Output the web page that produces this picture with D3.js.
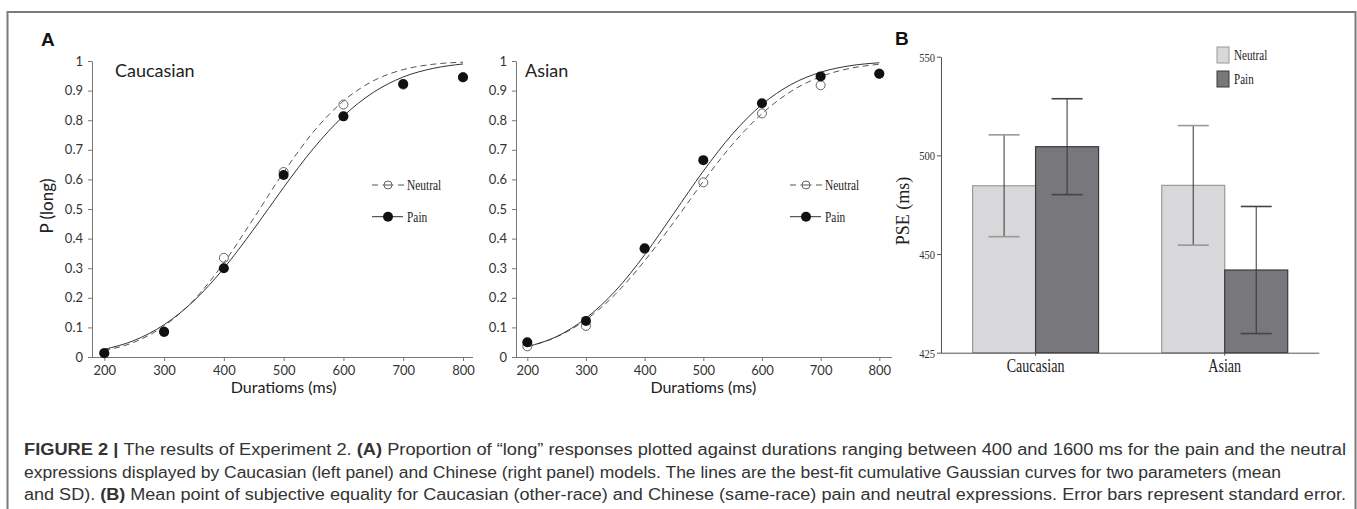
<!DOCTYPE html>
<html>
<head>
<meta charset="utf-8">
<script src="https://cdn.jsdelivr.net/npm/d3@7"></script>
<style>
  body { margin: 0; background: #fff; }
  svg { display: block; }
</style>
</head>
<body>
<script>
// ---- data ----
var durations = [200, 300, 400, 500, 600, 700, 800];
var caucNeutral = [0.013, 0.085, 0.335, 0.625, 0.853, 0.92, 0.945];
var caucPain = [0.013, 0.085, 0.30, 0.615, 0.813, 0.922, 0.945];
var asianNeutral = [0.036, 0.105, 0.365, 0.59, 0.823, 0.918, 0.957];
var asianPain = [0.05, 0.122, 0.367, 0.665, 0.857, 0.948, 0.957];

// fitted curves, read every 50 ms
var fitX = [200, 250, 300, 350, 400, 450, 500, 550, 600, 650, 700, 750, 800];
var caucNeutralFit = [0.022, 0.05, 0.105, 0.193, 0.318, 0.469, 0.624, 0.761, 0.865, 0.933, 0.971, 0.989, 0.996];
var caucPainFit = [0.026, 0.056, 0.109, 0.19, 0.30, 0.432, 0.573, 0.705, 0.814, 0.894, 0.946, 0.975, 0.99];
var asianNeutralFit = [0.035, 0.068, 0.126, 0.212, 0.325, 0.456, 0.593, 0.719, 0.822, 0.898, 0.947, 0.975, 0.989];
var asianPainFit = [0.035, 0.069, 0.131, 0.223, 0.345, 0.486, 0.628, 0.754, 0.853, 0.921, 0.962, 0.984, 0.994];
var probTicks = [0, 0.1, 0.2, 0.3, 0.4, 0.5, 0.6, 0.7, 0.8, 0.9, 1];

// panel B
var groups = ['Caucasian', 'Asian'];
var conditions = ['Neutral', 'Pain'];
var pseNeutral = [484.6, 484.8];
var psePain = [504.4, 441.9];
var seNeutral = [25.8, 30.3];
var sePain = [24.3, 32.2];
var pseTicks = [400, 450, 500, 550];
var pseTickLabels = ['425', '450', '500', '550'];

var caption = [
  [['FIGURE 2 | ', true], ['The results of Experiment 2. ', false], ['(A)', true], [' Proportion of \u201Clong\u201D responses plotted against durations ranging between 400 and 1600 ms for the pain and the neutral', false]],
  [['expressions displayed by Caucasian (left panel) and Chinese (right panel) models. The lines are the best-fit cumulative Gaussian curves for two parameters (mean', false]],
  [['and SD). ', false], ['(B)', true], [' Mean point of subjective equality for Caucasian (other-race) and Chinese (same-race) pain and neutral expressions. Error bars represent standard error.', false]]
];

var SANS = 'Lato, "Open Sans", sans-serif';
var SERIF = '"Liberation Serif", "Times New Roman", serif';

function condense(sel, f) {
  sel.each(function () {
    var w = this.getComputedTextLength();
    d3.select(this).attr('textLength', w * f).attr('lengthAdjust', 'spacingAndGlyphs');
  });
}

var svg = d3.select('body').append('svg')
  .attr('width', 1357)
  .attr('height', 509);

svg.append('rect').attr('width', 1357).attr('height', 509).attr('fill', '#fff');

// frame round the figure (open at the bottom, cut by the page)
svg.append('path')
  .attr('d', 'M7.5,530V12H1355.5V530')
  .attr('fill', 'none')
  .attr('stroke', '#7b7b7b')
  .attr('stroke-width', 2);

// ---- panel A: two psychometric plots ----
var y = d3.scaleLinear().domain([0, 1]).range([357, 61]);

function psychPanel(cfg) {
  var x = d3.scaleLinear().domain([200, 800]).range(cfg.xr);
  var g = svg.append('g');

  var xa = g.append('g')
    .attr('transform', 'translate(0,357)')
    .call(d3.axisBottom(x).tickValues(durations).tickSize(4).tickPadding(5).tickSizeOuter(0));
  xa.select('.domain').attr('d', 'M' + cfg.axisEnds[0] + ',0.5H' + cfg.axisEnds[1]);

  var ya = g.append('g')
    .attr('transform', 'translate(' + cfg.axisEnds[0] + ',0)')
    .call(d3.axisLeft(y).tickValues(probTicks).tickSize(4).tickPadding(5).tickSizeOuter(0)
      .tickFormat(function (d) { return String(+d.toFixed(1)); }));

  [xa, ya].forEach(function (a) {
    a.selectAll('.domain, .tick line').attr('stroke', '#777');
    a.selectAll('text').attr('font-family', SANS).attr('font-size', 13).attr('fill', '#333');
  });

  var line = d3.line()
    .x(function (d, i) { return x(fitX[i]); })
    .y(function (d) { return y(d); })
    .curve(d3.curveMonotoneX);

  g.append('path').attr('d', line(cfg.neutralFit))
    .attr('fill', 'none').attr('stroke', '#555').attr('stroke-width', 1)
    .attr('stroke-dasharray', '6,4');
  g.append('path').attr('d', line(cfg.painFit))
    .attr('fill', 'none').attr('stroke', '#333').attr('stroke-width', 1);

  g.selectAll('circle.neutral')
    .data(cfg.neutral)
    .enter().append('circle')
    .attr('class', 'neutral')
    .attr('cx', function (d, i) { return x(durations[i]); })
    .attr('cy', function (d) { return y(d); })
    .attr('r', 4.5)
    .attr('fill', 'none')
    .attr('stroke', '#666')
    .attr('stroke-width', 1);

  g.selectAll('circle.pain')
    .data(cfg.pain)
    .enter().append('circle')
    .attr('class', 'pain')
    .attr('cx', function (d, i) { return x(durations[i]); })
    .attr('cy', function (d) { return y(d); })
    .attr('r', 5)
    .attr('fill', '#111');

  g.append('text')
    .attr('x', cfg.titleX).attr('y', 76.5)
    .attr('font-family', SANS).attr('font-size', 18).attr('fill', '#222')
    .text(cfg.title);

  g.append('text')
    .attr('x', (cfg.xr[0] + cfg.xr[1]) / 2).attr('y', 393)
    .attr('text-anchor', 'middle')
    .attr('font-family', SANS).attr('font-size', 16).attr('fill', '#222')
    .text('Duratioms (ms)');

  // legend
  var lx = cfg.legX;
  g.append('line')
    .attr('x1', lx).attr('x2', lx + 32).attr('y1', 185).attr('y2', 185)
    .attr('stroke', '#555').attr('stroke-dasharray', '6,4.5,11,4.5,6');
  g.append('circle').attr('cx', lx + 16).attr('cy', 185).attr('r', 4)
    .attr('fill', 'none').attr('stroke', '#666');
  g.append('line')
    .attr('x1', lx).attr('x2', lx + 31).attr('y1', 216.7).attr('y2', 216.7)
    .attr('stroke', '#333');
  g.append('circle').attr('cx', lx + 16).attr('cy', 216.7).attr('r', 5).attr('fill', '#111');

  var lt = g.selectAll('text.leg')
    .data(conditions)
    .enter().append('text')
    .attr('class', 'leg')
    .attr('x', lx + 35)
    .attr('y', function (d, i) { return i === 0 ? 190 : 221.5; })
    .attr('font-family', SERIF).attr('font-size', 15).attr('fill', '#222')
    .text(function (d) { return d; });
  condense(lt, 0.76);
}

psychPanel({
  title: 'Caucasian', titleX: 115,
  xr: [104.3, 463], axisEnds: [92, 473], legX: 372,
  neutral: caucNeutral, pain: caucPain,
  neutralFit: caucNeutralFit, painFit: caucPainFit
});
psychPanel({
  title: 'Asian', titleX: 525,
  xr: [527.3, 879.3], axisEnds: [516, 892], legX: 790,
  neutral: asianNeutral, pain: asianPain,
  neutralFit: asianNeutralFit, painFit: asianPainFit
});

svg.append('text')
  .attr('transform', 'translate(53,206) rotate(-90)')
  .attr('text-anchor', 'middle')
  .attr('font-family', SANS).attr('font-size', 17).attr('fill', '#222')
  .text('P (long)');

svg.append('text').attr('x', 41).attr('y', 46)
  .attr('font-family', '"Liberation Sans", Arial, sans-serif')
  .attr('font-weight', 'bold').attr('font-size', 19).attr('fill', '#111')
  .text('A');

// ---- panel B: PSE bars ----
var bx0 = d3.scaleBand().domain(groups).range([941, 1319.3]).paddingInner(0.334).paddingOuter(0.167);
var bx1 = d3.scaleBand().domain(conditions).range([0, bx0.bandwidth()]);
var by = d3.scaleLinear().domain([400, 550]).range([352.7, 56.7]);

var fills = { Neutral: '#d8d8da', Pain: '#78787c' };
var strokes = { Neutral: '#9a9a9a', Pain: '#3a3a3a' };
var capStrokes = { Neutral: '#999', Pain: '#444' };

var bars = [];
groups.forEach(function (gname, i) {
  bars.push({ group: gname, cond: 'Neutral', value: pseNeutral[i], se: seNeutral[i] });
  bars.push({ group: gname, cond: 'Pain', value: psePain[i], se: sePain[i] });
});

var gb = svg.append('g');

gb.selectAll('rect.bar')
  .data(bars)
  .enter().append('rect')
  .attr('class', 'bar')
  .attr('x', function (d) { return bx0(d.group) + bx1(d.cond); })
  .attr('y', function (d) { return by(d.value); })
  .attr('width', bx1.bandwidth())
  .attr('height', function (d) { return by(400) - by(d.value); })
  .attr('fill', function (d) { return fills[d.cond]; })
  .attr('stroke', function (d) { return strokes[d.cond]; })
  .attr('stroke-width', 1.2);

var eb = gb.selectAll('g.err')
  .data(bars)
  .enter().append('g')
  .attr('class', 'err')
  .attr('transform', function (d) {
    return 'translate(' + (bx0(d.group) + bx1(d.cond) + bx1.bandwidth() / 2) + ',0)';
  });
eb.append('line')
  .attr('y1', function (d) { return by(d.value + d.se); })
  .attr('y2', function (d) { return by(d.value - d.se); })
  .attr('stroke', '#333').attr('stroke-width', 1);
eb.selectAll('line.cap')
  .data(function (d) { return [{ v: d.value + d.se, c: d.cond }, { v: d.value - d.se, c: d.cond }]; })
  .enter().append('line')
  .attr('class', 'cap')
  .attr('x1', -15.5).attr('x2', 15.5)
  .attr('y1', function (d) { return by(d.v); })
  .attr('y2', function (d) { return by(d.v); })
  .attr('stroke', function (d) { return capStrokes[d.c]; })
  .attr('stroke-width', 1.6);

var bya = gb.append('g')
  .attr('transform', 'translate(941,0)')
  .call(d3.axisLeft(by).tickValues(pseTicks).tickSize(4).tickPadding(2).tickSizeOuter(0)
    .tickFormat(function (d, i) { return pseTickLabels[i]; }));
var bxa = gb.append('g')
  .attr('transform', 'translate(0,352.7)')
  .call(d3.axisBottom(bx0).tickSize(3).tickPadding(4).tickSizeOuter(0));
bxa.select('.domain').attr('d', 'M941,0.5H1319.3');

[bya, bxa].forEach(function (a) {
  a.selectAll('.domain, .tick line').attr('stroke', '#555');
});
bya.selectAll('text').attr('font-family', SERIF).attr('font-size', 13.5).attr('fill', '#333');
condense(bya.selectAll('text'), 0.78);
bxa.selectAll('text').attr('font-family', SERIF).attr('font-size', 18).attr('fill', '#222');
condense(bxa.selectAll('text'), 0.78);

gb.append('text')
  .attr('transform', 'translate(909,211) rotate(-90)')
  .attr('text-anchor', 'middle')
  .attr('font-family', SERIF).attr('font-size', 18).attr('fill', '#222')
  .text('PSE (ms)');

var bl = gb.selectAll('g.bleg')
  .data(conditions)
  .enter().append('g')
  .attr('class', 'bleg')
  .attr('transform', function (d, i) { return 'translate(1217,' + (47 + i * 24) + ')'; });
bl.append('rect')
  .attr('width', 12).attr('height', 16)
  .attr('fill', function (d) { return fills[d]; })
  .attr('stroke', function (d) { return strokes[d]; });
var blt = bl.append('text')
  .attr('x', 17).attr('y', 13)
  .attr('font-family', SERIF).attr('font-size', 15).attr('fill', '#222')
  .text(function (d) { return d; });
condense(blt, 0.74);

svg.append('text').attr('x', 895).attr('y', 45)
  .attr('font-family', '"Liberation Sans", Arial, sans-serif')
  .attr('font-weight', 'bold').attr('font-size', 19).attr('fill', '#111')
  .text('B');

// ---- caption ----
var capWidths = [1322, 1257, 1322];
caption.forEach(function (segs, i) {
  var t = svg.append('text')
    .attr('x', 24).attr('y', 455 + i * 22.5)
    .attr('font-family', '"Liberation Sans", Arial, sans-serif')
    .attr('font-size', 16).attr('fill', '#333');
  segs.forEach(function (s) {
    t.append('tspan').attr('font-weight', s[1] ? 'bold' : 'normal').text(s[0]);
  });
  t.attr('textLength', capWidths[i]).attr('lengthAdjust', 'spacingAndGlyphs');
});
</script>
</body>
</html>
